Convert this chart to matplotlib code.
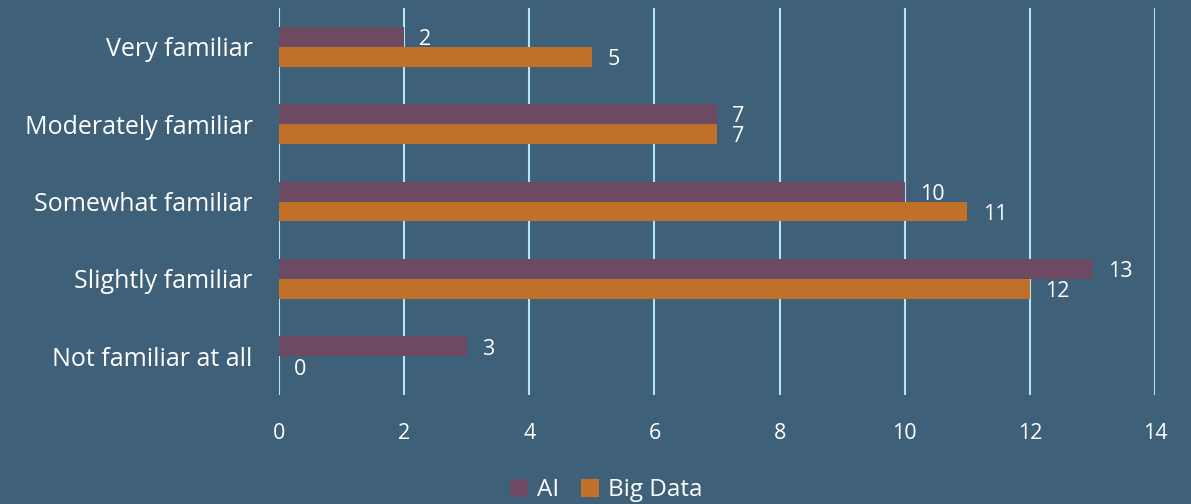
import matplotlib
matplotlib.use("Agg")
import matplotlib.pyplot as plt
import numpy as np

categories = ["Very familiar", "Moderately familiar", "Somewhat familiar", "Slightly familiar", "Not familiar at all"]
ai_values = [2, 7, 10, 13, 3]
bigdata_values = [5, 7, 11, 12, 0]
series_names = ["AI", "Big Data"]
xticks = [0, 2, 4, 6, 8, 10, 12, 14]

BG = "#3E6079"
C_AI = "#6B4A62"
C_BD = "#C07028"
GRID = "#B3E6F5"
TXT = "white"

plt.rcParams['font.family'] = ['Open Sans', 'DejaVu Sans']

fig = plt.figure(figsize=(11.91, 5.04), dpi=100, facecolor=BG)
ax = fig.add_axes([0.2343, 0.2163, 0.9698 - 0.2343, 0.984 - 0.2163], facecolor=BG)

y = np.arange(len(categories))
h = 0.258
b1 = ax.barh(y - h / 2, ai_values, height=h, color=C_AI, label=series_names[0], zorder=3)
b2 = ax.barh(y + h / 2, bigdata_values, height=h, color=C_BD, label=series_names[1], zorder=3)

for bars, vals in ((b1, ai_values), (b2, bigdata_values)):
    for rect, v in zip(bars, vals):
        ax.annotate(str(v), (rect.get_width(), rect.get_y() + rect.get_height() / 2),
                    xytext=(11, -2), textcoords="offset points", ha="left", va="center",
                    color=TXT, fontsize=15.5)

ax.set_xlim(0, 14)
ax.set_ylim(len(categories) - 0.5, -0.5)
ax.set_xticks(xticks)
ax.set_xticklabels([str(t) for t in xticks])
ax.set_yticks(y)
ax.set_yticklabels(categories)
ax.tick_params(axis='both', length=0, colors=TXT)
ax.tick_params(axis='y', labelsize=18, pad=19)
ax.tick_params(axis='x', labelsize=15.5, pad=20)
ax.xaxis.grid(True, color=GRID, linewidth=1.5, zorder=0)
ax.set_axisbelow(True)
for s in ax.spines.values():
    s.set_visible(False)

leg = fig.legend(handles=[b1, b2], labels=series_names, loc="lower center",
                 bbox_to_anchor=(0.509, -0.04), ncol=2, frameon=False, fontsize=17.5,
                 handlelength=0.75, handleheight=0.75, handletextpad=0.35, columnspacing=0.9)
for t in leg.get_texts():
    t.set_color(TXT)

fig.savefig("out.png", dpi=100, facecolor=BG)
